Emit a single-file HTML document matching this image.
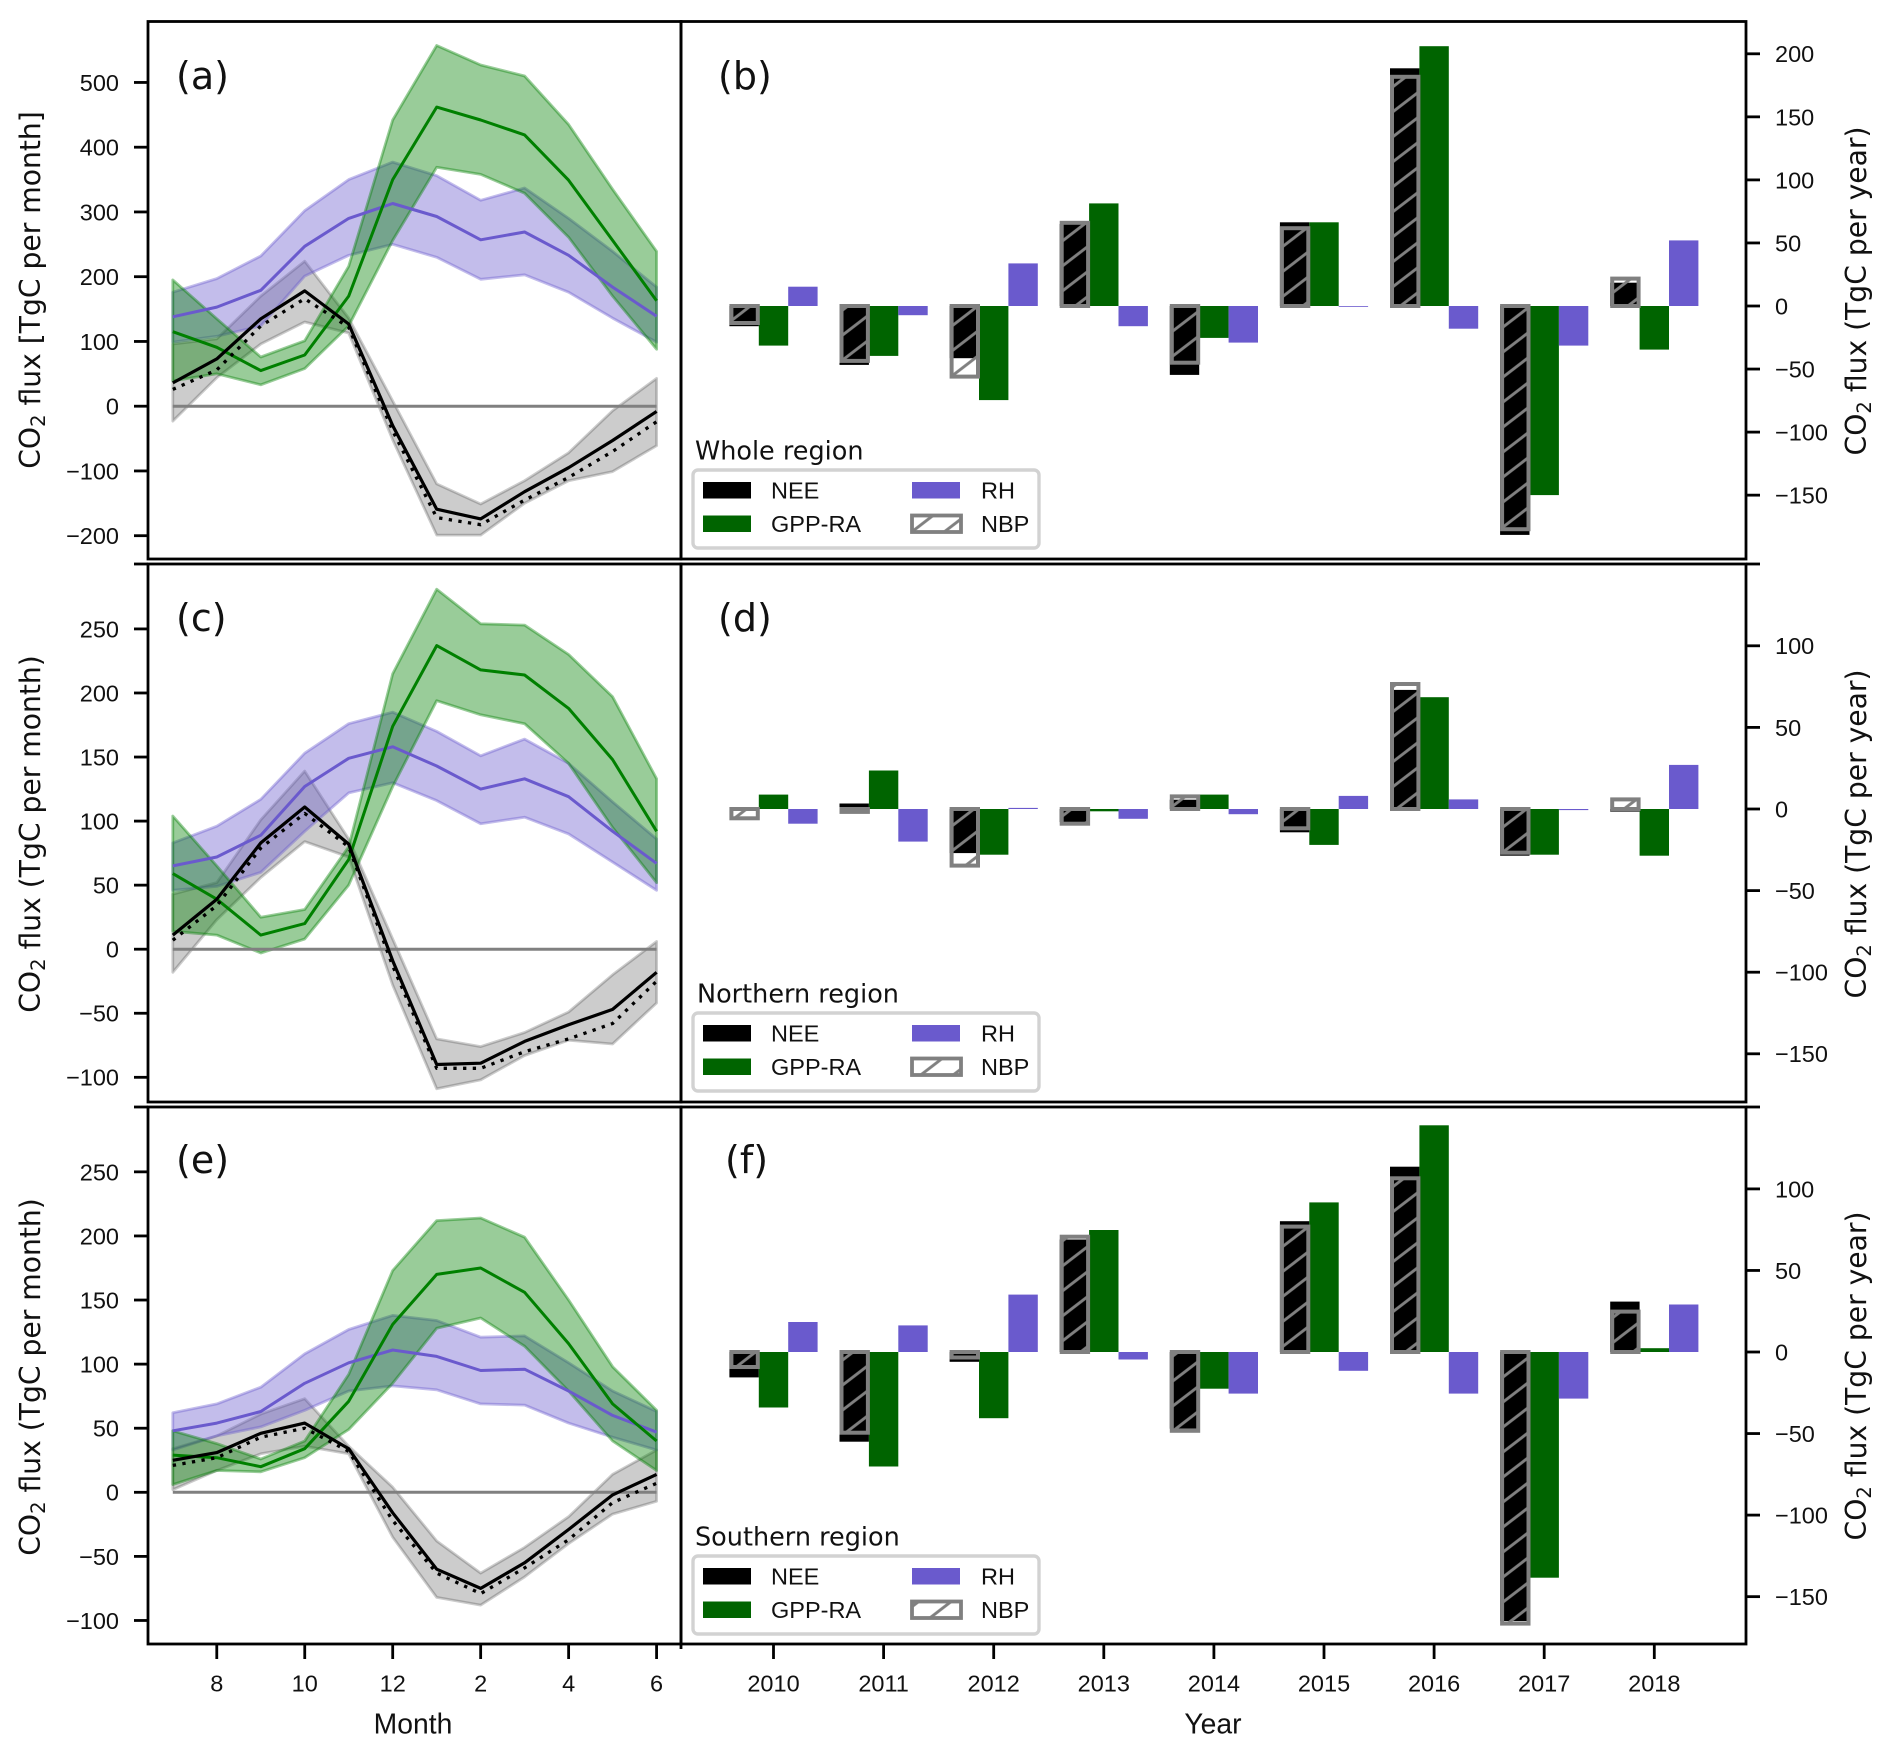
<!DOCTYPE html>
<html lang="en">
<head>
<meta charset="utf-8">
<title>CO2 flux panels</title>
<style>
html,body{margin:0;padding:0;background:#fff;}
svg{display:block;}
.tick{font-family:"Liberation Sans",Arial,sans-serif;font-size:23.5px;fill:#111;}
.axis-x{font-family:"Liberation Sans",Arial,sans-serif;font-size:28.3px;fill:#111;}
.dv{font-family:"DejaVu Sans",sans-serif;fill:#111;}
</style>
</head>
<body>
<svg id="chart" xmlns="http://www.w3.org/2000/svg" width="1892" height="1753" viewBox="0 0 1892 1753">
<defs>
<pattern id="hatch" patternUnits="userSpaceOnUse" width="32.5" height="25" patternTransform="translate(1393 86.7)">
<path d="M-3.25 27.5L35.75 -2.5M-3.25 2.5L3.25 -2.5M29.25 27.5L35.75 22.5" stroke="#808080" stroke-width="2.9" fill="none"/>
</pattern>
</defs>
<rect x="0" y="0" width="1892" height="1753" fill="#ffffff"/>
</svg>
<script>
// Shared categories and tick labels
const months = [7, 8, 9, 10, 11, 12, 1, 2, 3, 4, 5, 6];
const monthTicks = [8, 10, 12, 2, 4, 6];
const years = [2010, 2011, 2012, 2013, 2014, 2015, 2016, 2017, 2018];
const aTicks = [500, 400, 300, 200, 100, 0, -100, -200];
const cTicks = [250, 200, 150, 100, 50, 0, -50, -100];
const eTicks = [250, 200, 150, 100, 50, 0, -50, -100];
const bTicks = [200, 150, 100, 50, 0, -50, -100, -150];
const dTicks = [100, 50, 0, -50, -100, -150];
const fTicks = [100, 50, 0, -50, -100, -150];

// Panel (a) whole region, monthly
const aGpp = [115, 91, 55, 79, 170, 350, 462, 442, 419, 349, 256, 163];
const aGppUpper = [195, 135, 76, 101, 216, 442, 557, 527, 510, 435, 335, 239];
const aGppLower = [39, 50, 33, 58, 124, 256, 369, 358, 329, 261, 170, 88];
const aRh = [138, 153, 179, 247, 290, 313, 293, 257, 269, 233, 184, 139];
const aRhUpper = [176, 197, 232, 302, 350, 377, 356, 318, 337, 290, 239, 184];
const aRhLower = [99, 108, 124, 201, 233, 250, 230, 196, 203, 176, 136, 99];
const aNee = [36, 73, 135, 178, 127, -30, -159, -174, -132, -95, -53, -8];
const aNbp = [26, 56, 124, 166, 122, -38, -172, -183, -145, -110, -70, -24];
const aNeeUpper = [96, 104, 170, 224, 136, 8, -120, -151, -115, -72, -7, 43];
const aNeeLower = [-23, 44, 96, 130, 113, -52, -199, -199, -150, -115, -101, -61];

// Panel (c) northern region, monthly
const cGpp = [59, 39, 11, 20, 70, 174, 237, 218, 214, 188, 148, 92];
const cGppUpper = [104, 65, 25, 31, 80, 215, 281, 254, 253, 230, 197, 133];
const cGppLower = [14, 11, -3, 8, 50, 127, 194, 183, 176, 145, 95, 52];
const cRh = [65, 72, 89, 127, 149, 158, 143, 125, 133, 119, 92, 67];
const cRhUpper = [83, 96, 117, 153, 176, 185, 170, 151, 164, 145, 115, 86];
const cRhLower = [46, 49, 60, 92, 122, 130, 116, 98, 103, 90, 68, 46];
const cNee = [11, 39, 83, 111, 82, -9, -90, -89, -72, -59, -47, -18];
const cNbp = [7, 34, 79, 106, 80, -13, -93, -93, -80, -70, -58, -25];
const cNeeUpper = [43, 52, 101, 139, 86, 8, -70, -76, -65, -49, -20, 6];
const cNeeLower = [-18, 23, 56, 84, 72, -28, -109, -102, -83, -71, -74, -42];

// Panel (e) southern region, monthly
const eGpp = [29, 27, 20, 34, 71, 131, 170, 175, 156, 116, 69, 40];
const eGppUpper = [48, 38, 26, 40, 92, 173, 212, 214, 199, 150, 98, 64];
const eGppLower = [6, 17, 16, 27, 49, 85, 128, 136, 114, 79, 40, 17];
const eRh = [48, 54, 63, 85, 101, 111, 106, 95, 96, 79, 60, 47];
const eRhUpper = [62, 69, 82, 108, 127, 138, 134, 121, 122, 101, 79, 63];
const eRhLower = [33, 44, 51, 64, 79, 83, 80, 69, 68, 54, 43, 33];
const eNee = [25, 31, 46, 54, 34, -16, -60, -75, -55, -29, -2, 14];
const eNbp = [21, 27, 43, 50, 32, -22, -63, -79, -59, -37, -8, 7];
const eNeeUpper = [34, 44, 61, 73, 36, 4, -38, -63, -43, -19, 14, 33];
const eNeeLower = [2, 17, 30, 36, 30, -35, -82, -88, -66, -40, -17, -7];

// Panel (b) whole region, yearly
const bNee = [-16, -46.7, -41.4, 65, -54.6, 66.4, 188.5, -181.5, 18.5];
const bGpp = [-31.4, -39.6, -74.6, 81.4, -25.3, 66.4, 206, -150, -34.6];
const bRh = [15.3, -7.3, 33.8, -16, -29, -0.6, -18, -31.4, 52];
const bNbp = [-13.5, -43.5, -56, 66, -45, 61.7, 181.8, -177, 21.7];

// Panel (d) northern region, yearly
const dNee = [0, 3.4, -27, -8, 5.7, -14.3, 73, -28.6, -1.6];
const dGpp = [8.8, 23.6, -28, -1.4, 8.8, -22, 68.5, -28, -28.6];
const dRh = [-9, -20, 0.7, -6, -3.2, 8, 5.9, -0.7, 27];
const dNbp = [-5.7, -1.8, -34.7, -9, 7.7, -11.8, 76.6, -26.8, 5.9];

// Panel (f) southern region, yearly
const fNee = [-15.6, -55, -6, 69, -47, 80.2, 113.6, -165, 30.9];
const fGpp = [-34, -70.2, -40.6, 74.8, -22.5, 91.7, 139, -138.4, 2.3];
const fRh = [18.4, 16.3, 35.2, -4.6, -25.5, -11.5, -25.5, -28.6, 29.1];
const fNbp = [-9.2, -49.5, -3.4, 70.7, -48.3, 76.9, 106.5, -166.5, 24.8];

const NS = 'http://www.w3.org/2000/svg';
const root = document.getElementById('chart');

function make(tag, attrs, parent) {
  const node = document.createElementNS(NS, tag);
  for (const key in attrs) node.setAttribute(key, attrs[key]);
  parent.appendChild(node);
  return node;
}
function fmt(v) { return String(v).replace('-', '\u2212'); }
function xMonth(i) { return 172.8 + 43.98 * i; }
function xYear(i) { return 773.5 + 110.1 * i; }
function yScale(zero, perUnit) { return function (v) { return zero - v * perUnit; }; }
function pts(values, y) { return values.map(function (v, i) { return xMonth(i).toFixed(1) + ',' + y(v).toFixed(1); }); }

function drawBand(g, y, upper, lower, color, opacity) {
  const poly = pts(upper, y).concat(pts(lower, y).reverse()).join(' ');
  const el = make('polygon', { points: poly, fill: color, 'fill-opacity': opacity, stroke: color, 'stroke-opacity': opacity, 'stroke-width': 2.8, 'stroke-linejoin': 'round' }, g);
  
  
}
function drawLine(g, y, values, color, width, dash) {
  const attrs = { points: pts(values, y).join(' '), fill: 'none', stroke: color, 'stroke-width': width, 'stroke-linejoin': 'round' };
  if (dash) attrs['stroke-dasharray'] = dash;
  const el = make('polyline', attrs, g);
  
  
}
function drawYTicks(g, y, ticks, side) {
  ticks.forEach(function (t) {
    const py = y(t);
    const x1 = side === 'left' ? 134 : 1746;
    const x2 = side === 'left' ? 148 : 1760;
    const mark = make('line', { x1: x1, x2: x2, y1: py, y2: py, stroke: '#000', 'stroke-width': 2.8 }, g);
    
    
    const label = make('text', { x: side === 'left' ? 119 : 1775, y: py + 8.4, class: 'tick', 'text-anchor': side === 'left' ? 'end' : 'start' }, g);
    label.textContent = fmt(t);
    
    
  });
}
function drawYTitle(g, cx, cy, tail) {
  const t = make('text', { transform: 'translate(' + cx + ' ' + cy + ') rotate(-90)', class: 'dv', 'font-size': 28.2, 'text-anchor': 'middle' }, g);
  
  
  t.appendChild(document.createTextNode('CO'));
  const sub = make('tspan', { 'font-size': 19.6, dy: 5 }, t);
  sub.textContent = '2';
  const rest = make('tspan', { dy: -5 }, t);
  rest.textContent = ' ' + tail;
}
function drawMonthly(name, zero, perUnit, ticks, d, letter, labelY, titleY, tail) {
  const g = make('g', {}, root);
  
  
  const y = yScale(zero, perUnit);
  drawBand(g, y, d.neeU, d.neeL, '#000000', 0.2);
  drawBand(g, y, d.rhU, d.rhL, '#6a5acd', 0.4);
  drawBand(g, y, d.gppU, d.gppL, '#008000', 0.4);
  const zeroLine = make('line', { x1: xMonth(0), x2: xMonth(months.length - 1), y1: y(0), y2: y(0), stroke: '#808080', 'stroke-width': 3 }, g);
  
  
  drawLine(g, y, d.rh, '#6a5acd', 3);
  drawLine(g, y, d.gpp, '#008000', 3);
  drawLine(g, y, d.nbp, '#000000', 3.3, '3.3 6.4');
  drawLine(g, y, d.nee, '#000000', 3.2);
  drawYTicks(g, y, ticks, 'left');
  drawYTitle(g, 40, titleY, tail);
  const lab = make('text', { x: 176, y: labelY, class: 'dv', 'font-size': 38 }, g);
  lab.textContent = letter;
  
  
}
function drawBar(g, px, y, v, color) {
  const r = make('rect', { x: px.toFixed(1), width: 29.4, y: Math.min(y(0), y(v)).toFixed(1), height: Math.abs(y(v) - y(0)).toFixed(1), fill: color }, g);
  
  
}
function drawYearly(name, zero, perUnit, ticks, d, letter, labelX, labelY, titleY, legendTop, regionName, regionX) {
  const g = make('g', {}, root);
  
  
  const y = yScale(zero, perUnit);
  years.forEach(function (year, i) {
    const c = xYear(i);
    drawBar(g, c - 44.1, y, d.nee[i], '#000000');
    drawBar(g, c - 14.7, y, d.gpp[i], '#006400');
    drawBar(g, c + 14.7, y, d.rh[i], '#6a5acd');
    const n = make('rect', { x: (c - 44.1 + 2).toFixed(1), width: 26.4, y: Math.min(y(0), y(d.nbp[i])).toFixed(1), height: Math.abs(y(d.nbp[i]) - y(0)).toFixed(1), fill: 'url(#hatch)', stroke: '#808080', 'stroke-width': 4 }, g);
    
    
  });
  drawYTicks(g, y, ticks, 'right');
  drawYTitle(g, 1866, titleY, 'flux (TgC per year)');
  const lab = make('text', { x: labelX, y: labelY, class: 'dv', 'font-size': 38 }, g);
  lab.textContent = letter;
  
  
  drawLegend(g, legendTop, regionName, regionX);
}
function legendPatch(lg, x, y, color, hatched) {
  const p = make('rect', { x: x, y: y, width: hatched ? 49 : 48, height: 16.5, fill: hatched ? '#ffffff' : color }, lg);
  
  
  if (hatched) {
    const h = make('rect', { x: x, y: y, width: 49, height: 16.5, fill: 'url(#hatch)', stroke: '#808080', 'stroke-width': 3.8 }, lg);
    
    
  }
}
function legendText(lg, x, y, str) {
  const t = make('text', { x: x, y: y, class: 'tick' }, lg);
  t.textContent = str;
  
  
}
function drawLegend(g, top, regionName, regionX) {
  const lg = make('g', {}, g);
  
  
  const title = make('text', { x: regionX, y: top - 10.5, class: 'dv', 'font-size': 25.5 }, lg);
  title.textContent = regionName;
  
  
  const box = make('rect', { x: 693, y: top, width: 346, height: 78, rx: 5, fill: '#ffffff', stroke: '#d2d2d2', 'stroke-width': 3.4 }, lg);
  
  
  legendPatch(lg, 703, top + 12, '#000000', false);
  legendPatch(lg, 703, top + 45.5, '#006400', false);
  legendPatch(lg, 912, top + 12, '#6a5acd', false);
  legendPatch(lg, 912, top + 45.5, '#808080', true);
  legendText(lg, 771, top + 28.5, 'NEE');
  legendText(lg, 771, top + 62, 'GPP-RA');
  legendText(lg, 981, top + 28.5, 'RH');
  legendText(lg, 981, top + 62, 'NBP');
}

drawMonthly('panel-a-whole-monthly', 406.2, 0.6475, aTicks, { gpp: aGpp, gppU: aGppUpper, gppL: aGppLower, rh: aRh, rhU: aRhUpper, rhL: aRhLower, nee: aNee, nbp: aNbp, neeU: aNeeUpper, neeL: aNeeLower }, '(a)', 89, 290, 'flux [TgC per month]');
drawMonthly('panel-c-northern-monthly', 949.2, 1.2811, cTicks, { gpp: cGpp, gppU: cGppUpper, gppL: cGppLower, rh: cRh, rhU: cRhUpper, rhL: cRhLower, nee: cNee, nbp: cNbp, neeU: cNeeUpper, neeL: cNeeLower }, '(c)', 631, 834, 'flux (TgC per month)');
drawMonthly('panel-e-southern-monthly', 1492.3, 1.2818, eTicks, { gpp: eGpp, gppU: eGppUpper, gppL: eGppLower, rh: eRh, rhU: eRhUpper, rhL: eRhLower, nee: eNee, nbp: eNbp, neeU: eNeeUpper, neeL: eNeeLower }, '(e)', 1173, 1377, 'flux (TgC per month)');
drawYearly('panel-b-whole-yearly', 306, 1.261, bTicks, { nee: bNee, gpp: bGpp, rh: bRh, nbp: bNbp }, '(b)', 718, 89, 291, 470, 'Whole region', 695);
drawYearly('panel-d-northern-yearly', 809, 1.632, dTicks, { nee: dNee, gpp: dGpp, rh: dRh, nbp: dNbp }, '(d)', 718, 631, 834, 1013, 'Northern region', 697);
drawYearly('panel-f-southern-yearly', 1352, 1.631, fTicks, { nee: fNee, gpp: fGpp, rh: fRh, nbp: fNbp }, '(f)', 725, 1173, 1376, 1556, 'Southern region', 695);

// Frames
[[21.5, 559], [564, 1102], [1107, 1644]].forEach(function (row) {
  const left = make('rect', { x: 148, y: row[0], width: 533, height: row[1] - row[0], fill: 'none', stroke: '#000', 'stroke-width': 2.8 }, root);
  
  
  const right = make('rect', { x: 681, y: row[0], width: 1065, height: row[1] - row[0], fill: 'none', stroke: '#000', 'stroke-width': 2.8 }, root);
  
  
});
[564, 1107].forEach(function (py) {
  const a = make('line', { x1: 134, x2: 148, y1: py, y2: py, stroke: '#000', 'stroke-width': 2.8 }, root);
  
  
  const b = make('line', { x1: 1746, x2: 1760, y1: py, y2: py, stroke: '#000', 'stroke-width': 2.8 }, root);
  
  
});
const dividerTick = make('line', { x1: 681, x2: 681, y1: 1644, y2: 1649, stroke: '#000', 'stroke-width': 2.8 }, root);



// X axes
monthTicks.forEach(function (m) {
  const i = months.indexOf(m);
  const px = xMonth(i);
  const mark = make('line', { x1: px, x2: px, y1: 1644, y2: 1659, stroke: '#000', 'stroke-width': 2.8 }, root);
  
  
  const t = make('text', { x: px, y: 1691.4, class: 'tick', 'text-anchor': 'middle' }, root);
  t.textContent = String(m);
  
  
});
years.forEach(function (year, i) {
  const px = xYear(i);
  const mark = make('line', { x1: px, x2: px, y1: 1644, y2: 1659, stroke: '#000', 'stroke-width': 2.8 }, root);
  
  
  const t = make('text', { x: px, y: 1691.4, class: 'tick', 'text-anchor': 'middle' }, root);
  t.textContent = String(year);
  
  
});
const monthTitle = make('text', { x: 413, y: 1733.5, class: 'axis-x', 'text-anchor': 'middle' }, root);
monthTitle.textContent = 'Month';


const yearTitle = make('text', { x: 1213, y: 1733.5, class: 'axis-x', 'text-anchor': 'middle' }, root);
yearTitle.textContent = 'Year';


</script>
</body>
</html>
